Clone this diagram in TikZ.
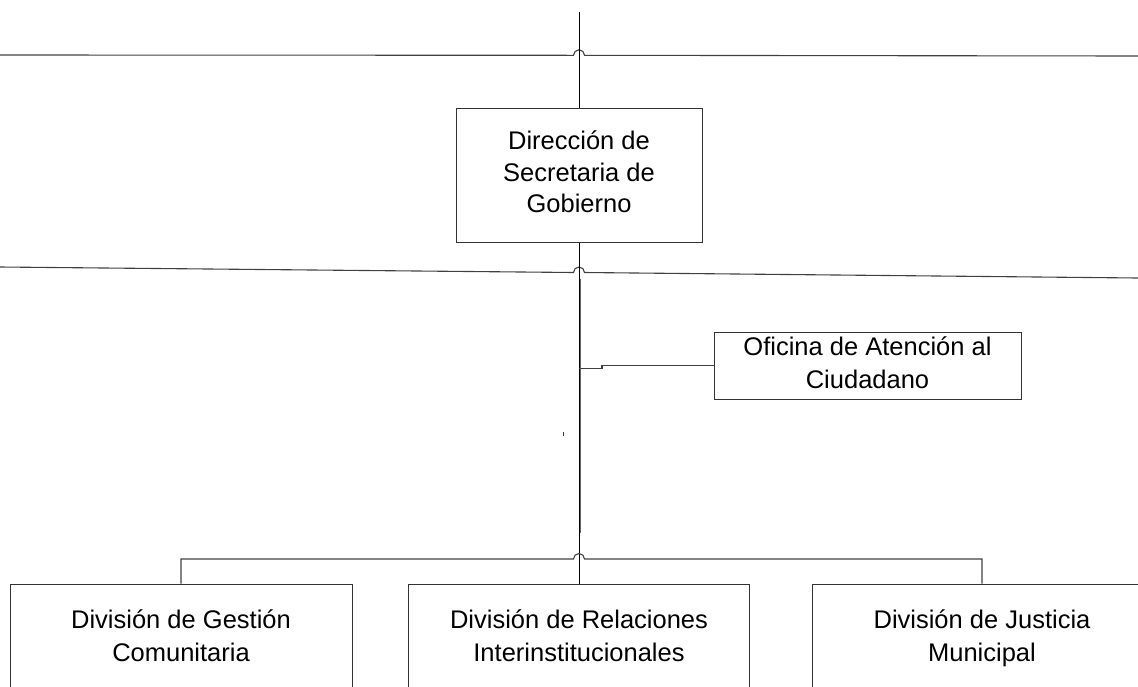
\documentclass[tikz,border=0pt]{standalone}
\usepackage{fontspec}
\setmainfont{Liberation Sans}
\usepackage{tikz}
\usetikzlibrary{positioning}

\tikzset{
    caja/.style={draw=black!80, line width=1pt, align=center, inner sep=0pt,
        font=\fontsize{25.5}{33}\selectfont},
    linea/.style={black!75, line width=1.1pt},
    tallo/.style={black, line width=0.9pt},
}

\begin{document}
\begin{tikzpicture}[x=1pt, y=-1pt]
    \useasboundingbox (0,0) rectangle (1138,686);    % 画布大小
    \clip (0,0) rectangle (1138,686);

    % 方框
    \node[caja, minimum width=246, minimum height=134,
        font=\fontsize{25.5}{31.5}\selectfont
        ] (direccion) at (579,175) {\strut Dirección de\\Secretaria de\\Gobierno\strut};
    \node[caja, minimum width=307, minimum height=67
        ] (oficina) at (867.5,365.5) {\strut Oficina de Atención al\\Ciudadano\strut};
    \node[caja, minimum width=342, minimum height=108] (gestion) at (181,638) {\strut División de Gestión\\Comunitaria\strut};
    \node[caja, minimum width=341, minimum height=108] (relaciones) at (579,638) {\strut División de Relaciones\\Interinstitucionales\strut};
    \node[caja, minimum width=340, minimum height=108] (justicia) at (982,638) {\strut División de Justicia\\Municipal\strut};

    % 水平线 (带跨线弧)
    \draw[linea] (0,55) -- (573.5,55.3) arc[start angle=180, end angle=360, radius=5.5] -- (1138,56);
    \draw[linea] (0,267) -- (573.5,272.5) arc[start angle=180, end angle=360, radius=5.5] -- (1138,278);

    % 主干
    \coordinate (cima) at (579,12);
    \draw[tallo] (cima) -- (direccion.north);
    \draw[tallo] (direccion.south) -- (relaciones.north);
    \draw[black!60, line width=0.6pt] (580.6,279) -- (580.6,533);    % 双线部分

    % 分支
    \coordinate (jog) at (579,368.5);
    \draw[linea] (jog) -- ++(23,0) |- (oficina.west);
    \coordinate (bus) at (579,559);
    \draw[linea] (gestion.north) |- ([xshift=-5.5]bus)
        arc[start angle=180, end angle=360, radius=5.5] -| (justicia.north);

    \draw[linea, line width=0.6pt] (563,431.5) -- (563,435.5);
\end{tikzpicture}
\end{document}
